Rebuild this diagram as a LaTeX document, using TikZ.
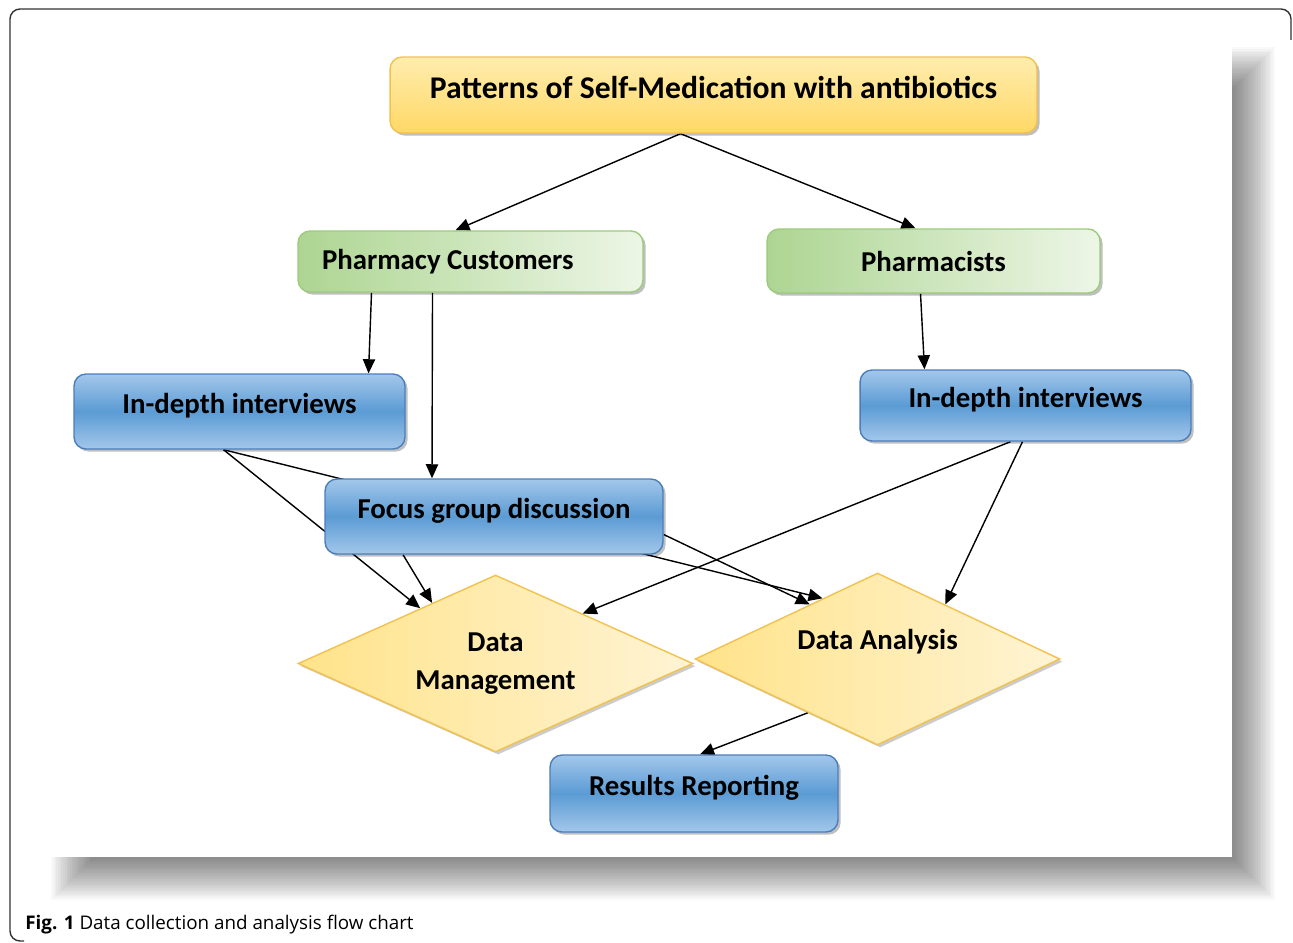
\documentclass[tikz,border=0pt]{standalone}
\usepackage{fontspec}
\setmainfont{Carlito}
\newfontfamily\captionfont{Open Sans}
\usepackage{xcolor}
\usepackage{tikz}
\usetikzlibrary{shapes.geometric, arrows.meta, positioning, calc, shadows}

\definecolor{goldline}{HTML}{F2C24F}
\definecolor{goldtop}{HTML}{FFEDAE}
\definecolor{goldbottom}{HTML}{FFD866}
\definecolor{greenline}{HTML}{9CCB7E}
\definecolor{greendark}{HTML}{ADD592}
\definecolor{greenlight}{HTML}{EDF6E6}
\definecolor{blueline}{HTML}{4A7EBB}
\definecolor{bluelight}{HTML}{A3C7EA}
\definecolor{bluemid}{HTML}{5B9BD5}
\definecolor{diadark}{HTML}{FFE38A}
\definecolor{dialight}{HTML}{FFF4D4}
\definecolor{frameline}{HTML}{333333}

\pgfdeclarelayer{background}
\pgfdeclarelayer{edges}
\pgfsetlayers{background,edges,main}

\begin{document}
\begin{tikzpicture}[
        x=0.02cm, y=-0.02cm,
        box/.style={rectangle, rounded corners=0.24cm, draw, line width=0.8pt, align=center, inner sep=0pt,
            font=\bfseries\fontsize{16.4}{19}\selectfont,
            drop shadow={shadow xshift=1.5pt, shadow yshift=-1.5pt, fill=black, opacity=0.25}},
        topbox/.style={box, draw=goldline, top color=goldtop, bottom color=goldbottom,
            font=\bfseries\fontsize{18}{21}\selectfont, text depth=9pt},
        groupbox/.style={box, draw=greenline, left color=greendark, right color=greenlight},
        methodbox/.style={box, draw=blueline, top color=bluelight, bottom color=bluelight, middle color=bluemid,
            text depth=9pt},
        decision/.style={diamond, draw=goldline, line width=0.8pt, left color=diadark, right color=dialight,
            align=center, inner sep=0pt, font=\bfseries\fontsize{16.4}{19}\selectfont,
            drop shadow={shadow xshift=1.5pt, shadow yshift=-1.5pt, fill=black, opacity=0.2}},
        arrow/.style={-{Triangle[length=8pt, width=7pt]}, line width=0.8pt}
    ]
        \useasboundingbox (0,0) rectangle (1293,942);

        % Page frame and panel
        \begin{pgfonlayer}{background}
        \draw[frameline, line width=0.8pt, rounded corners=0.2cm] (24,941) -- (10,941) -- (10,9) -- (1291,9) -- (1291,40);
        \foreach \i in {0,...,24}
            \fill[black, opacity=0.025] (92-1.7*\i,88-1.7*\i) rectangle (1234+1.7*\i,859+1.7*\i);
        \fill[white] (50,45) rectangle (1232,857);
        \end{pgfonlayer}

        % Nodes
        \node[topbox, minimum width=12.94cm, minimum height=1.52cm] (patterns) at (713.5,95) {Patterns of Self-Medication with antibiotics};
        \node[groupbox, minimum width=6.9cm, minimum height=1.22cm, text width=5.94cm, align=flush left, inner xsep=0.48cm] (customers) at (470.5,261.5) {Pharmacy Customers};
        \node[groupbox, minimum width=6.66cm, minimum height=1.28cm] (pharmacists) at (933.5,261) {Pharmacists};
        \node[methodbox, minimum width=6.62cm, minimum height=1.5cm] (custinterviews) at (239.5,411.5) {In-depth interviews};
        \node[methodbox, minimum width=6.62cm, minimum height=1.42cm] (pharminterviews) at (1025.5,405.5) {In-depth interviews};
        \node[methodbox, minimum width=6.76cm, minimum height=1.5cm] (focus) at (494,516.5) {Focus group discussion};
        \node[decision, aspect=2.23, minimum width=7.9cm, minimum height=3.54cm] (management) at (495.5,663.5) {Data\\[3pt]Management};
        \node[decision, aspect=2.12, minimum width=7.3cm, minimum height=3.44cm, text depth=22pt] (analysis) at (877.5,659) {Data Analysis};
        \node[methodbox, minimum width=5.76cm, minimum height=1.54cm] (results) at (694,793.5) {Results Reporting};

        \node[anchor=west, inner sep=0pt, font=\captionfont\fontsize{10.7}{12}\selectfont] (caption) at (25,925) {\textbf{Fig. 1} Data collection and analysis flow chart};

        % Arrows
        \begin{pgfonlayer}{edges}
        \draw[arrow] ($(patterns.south)+(-33,0)$) -- ($(customers.north)+(-15,0)$);
        \draw[arrow] ($(patterns.south)+(-33,0)$) -- ($(pharmacists.north)+(-18,0)$);
        \draw[arrow] ($(customers.south)+(-99,0)$) -- ($(custinterviews.north)+(129,0)$);
        \draw[arrow] ($(customers.south)+(-38,0)$) -- ($(focus.north)+(-62,0)$);
        \draw[arrow] ($(pharmacists.south)+(-13,0)$) -- ($(pharminterviews.north)+(-101,0)$);
        \draw[arrow] ($(custinterviews.south)+(-16,0)$) -- ($(management.north)!0.38!(management.west)$);
        \draw[arrow] ($(custinterviews.south)+(-16,0)$) -- ($(analysis.north)!0.30!(analysis.west)$);
        \draw[arrow] ($(focus.south)+(-91,0)$) -- ($(management.north)!0.32!(management.west)$);
        \draw[arrow] ($(focus.east)+(0,18)$) -- ($(analysis.north)!0.37!(analysis.west)$);
        \draw[arrow] ($(pharminterviews.south)+(-15,0)$) -- ($(management.north)!0.44!(management.east)$);
        \draw[arrow] ($(pharminterviews.south)+(-3,0)$) -- ($(analysis.north)!0.37!(analysis.east)$);
        \draw[arrow] ($(analysis.south)!0.38!(analysis.west)$) -- ($(results.north)+(6,0)$);
        \end{pgfonlayer}
    \end{tikzpicture}
\end{document}
